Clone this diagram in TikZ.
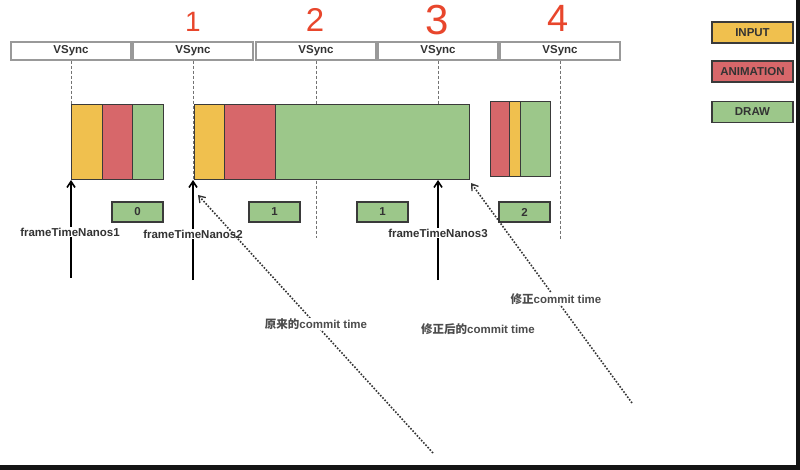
\documentclass[tikz,border=0pt]{standalone}
\usepackage{fontspec}
\setmainfont{Liberation Sans}
\newfontfamily\cjk{Noto Sans CJK SC}
\usetikzlibrary{arrows.meta,positioning}

\definecolor{inputc}{HTML}{F0C04E}
\definecolor{animc}{HTML}{D7676A}
\definecolor{drawc}{HTML}{9CC78A}
\definecolor{edgec}{HTML}{3A3A3A}
\definecolor{textc}{HTML}{333333}
\definecolor{penc}{HTML}{E8462C}

\begin{document}
\begin{tikzpicture}[
    x=1pt, y=-1pt,
    font=\bfseries\fontsize{11.5}{13}\selectfont,
    vcell/.style={draw=black!40, line width=1.4pt, minimum width=120, minimum height=18,
      inner sep=0, text=textc},
    seg/.style={draw=edgec, line width=1pt, minimum height=75, inner sep=0, outer sep=0,
      anchor=north west},
    inputseg/.style={seg, fill=inputc},
    animseg/.style={seg, fill=animc},
    drawseg/.style={seg, fill=drawc},
    count/.style={draw=edgec, line width=1.3pt, fill=drawc, minimum width=51,
      minimum height=20, inner sep=0, text=textc},
    legend/.style={draw=edgec, line width=1.5pt, minimum width=81, minimum height=21,
      inner sep=0, text=textc},
    tick/.style={draw=black!55, line width=0.9pt, dash pattern=on 3pt off 2pt},
    tsarrow/.style={-{Straight Barb[length=6pt,width=8pt]}, line width=1.6pt, black},
    tslabel/.style={fill=white, inner sep=1pt, text=textc},
    commit/.style={-{Straight Barb[length=6pt,width=8pt,line width=1.3pt]}, line width=1.6pt,
      black!80, dash pattern=on 1.6pt off 1.6pt},
    commitlabel/.style={fill=white, inner sep=1pt, text=black!70},
    pen/.style={text=penc, font=\fontsize{#1}{#1}\selectfont, inner sep=0}
  ]
    \useasboundingbox (0,0) rectangle (800,470);
    \fill[black!92] (0,465) rectangle (800,470);
    \fill[black!92] (796,0) rectangle (800,470);

    \node[pen=28] (n1) at (193,22) {1};
    \node[pen=33] (n2) at (315,20) {2};
    \node[pen=42] (n3) at (437,20) {3};
    \node[pen=38] (n4) at (558,18) {4};

    \node[vcell] (v1) at (71,51) {VSync};
    \node[vcell] (v2) at (193,51) {VSync};
    \node[vcell] (v3) at (316,51) {VSync};
    \node[vcell] (v4) at (438,51) {VSync};
    \node[vcell] (v5) at (560,51) {VSync};

    \coordinate (t1) at (71,180);
    \coordinate (t2) at (193,180);
    \coordinate (t3) at (316,238);
    \coordinate (t4) at (438,180);
    \coordinate (t5) at (560,240);
    \draw[tick] (v1.south) -- (t1);
    \draw[tick] (v2.south) -- (t2);
    \draw[tick] (v3.south) -- (t3);
    \draw[tick] (v4.south) -- (t4);
    \draw[tick] (v5.south) -- (t5);

    \node[inputseg, minimum width=31] (in1) at (71,105) {};
    \node[animseg, minimum width=30, right=0pt of in1] (an1) {};
    \node[drawseg, minimum width=31, right=0pt of an1] (dr1) {};

    \node[inputseg, minimum width=30] (in2) at (194,105) {};
    \node[animseg, minimum width=51, right=0pt of in2] (an2) {};
    \node[drawseg, minimum width=194, right=0pt of an2] (dr2) {};

    \node[animseg, minimum width=19] (an3) at (490,102) {};
    \node[inputseg, minimum width=11, right=0pt of an3] (in3) {};
    \node[drawseg, minimum width=30, right=0pt of in3] (dr3) {};

    \node[count] (c0) at (137.5,212) {0};
    \node[count] (c1) at (274.5,212) {1};
    \node[count] (c1b) at (382.5,212) {1};
    \node[count] (c2) at (524.5,212) {2};

    \coordinate (a1) at (71,278);
    \coordinate (a2) at (193,280);
    \coordinate (a3) at (438,280);
    \draw[tsarrow] (a1) -- (a1 |- in1.south);
    \draw[tsarrow] (a2) -- (a2 |- in2.south);
    \draw[tsarrow] (a3) -- (a3 |- dr2.south);
    \node[tslabel] (ts1) at (70,232) {frameTimeNanos1};
    \node[tslabel] (ts2) at (193,234) {frameTimeNanos2};
    \node[tslabel] (ts3) at (438,233) {frameTimeNanos3};

    \coordinate (old) at (433,453);
    \coordinate (oldtip) at (198,195);
    \coordinate (fix) at (632,403);
    \coordinate (fixtip) at (471,183);
    \draw[commit] (old) -- (oldtip);
    \draw[commit] (fix) -- (fixtip);
    \node[commitlabel] (oldlab) at (316,324) {{\cjk 原来的}commit time};
    \node[commitlabel] (fixlab) at (556,299) {{\cjk 修正}commit time};
    \node[commitlabel] (newlab) at (478,329) {{\cjk 修正后的}commit time};

    \node[legend, fill=inputc] (lin) at (752.5,32.5) {INPUT};
    \node[legend, fill=animc] (lan) at (752.5,71.5) {ANIMATION};
    \node[legend, fill=drawc] (ldr) at (752.5,112) {DRAW};
  \end{tikzpicture}
\end{document}
